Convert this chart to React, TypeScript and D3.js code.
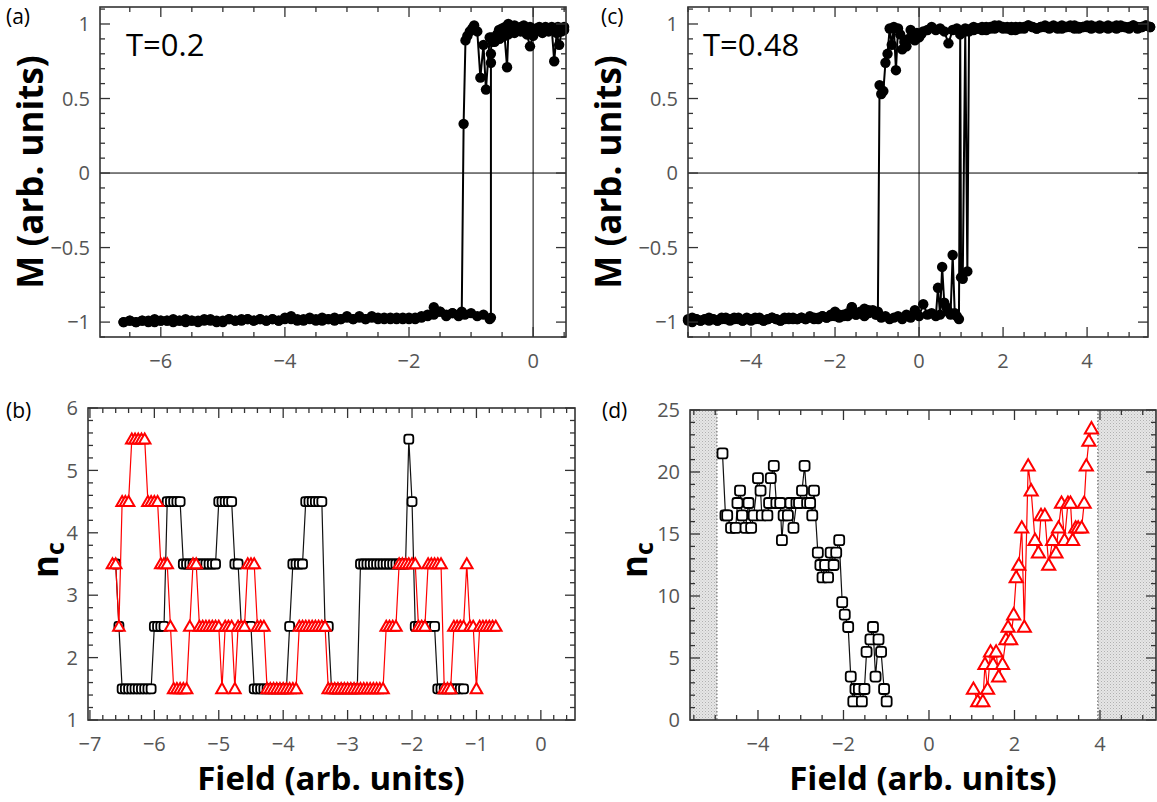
import React from "react";
import * as d3 from "d3";

const W = 1157;
const H = 802;

// ---------- panel (a), T=0.2 ----------
// lower branch, field sweep from -6.6 in steps of 0.1
const aLowStart = -6.6;
const aLowStep = 0.1;
const aLowM = [
  -1.0, -0.99, -1.0, -0.99, -0.99, -1.0, -0.99,
  -0.99, -0.98, -0.99, -1.0, -0.99, -0.99, -0.98, -0.99, -1.0, -0.99,
  -0.98, -0.99, -0.99, -0.98, -0.99, -0.98, -0.99, -0.98, -0.99, -0.97,
  -0.98, -0.99, -0.98, -0.98, -0.99, -0.97, -0.98, -0.99, -0.98, -0.97,
  -0.98, -0.96, -0.98, -0.97, -0.98, -0.97, -0.98, -0.97, -0.98, -0.97,
  -0.98, -0.97, -0.96, -0.95, -0.93, -0.95, -0.94, -0.96, -0.95, -0.94,
  -0.96, -0.95, -0.98,
];
const aUpSwitch: [number, number][] = [
  [-0.68, -0.97], [-0.68, 0.74], [-0.68, 0.8], [-0.67, 0.91], [-0.62, 0.88],
  [-0.58, 0.93], [-0.54, 0.9], [-0.5, 0.95], [-0.46, 0.92], [-0.42, 0.71],
  [-0.4, 0.93], [-0.35, 0.96], [-0.3, 0.94], [-0.25, 0.97], [-0.2, 0.95],
  [-0.15, 0.96], [-0.1, 0.93], [-0.05, 0.85], [0.0, 0.92], [0.05, 0.95],
  [0.1, 0.97], [0.15, 0.94], [0.2, 0.96], [0.25, 0.95], [0.3, 0.97],
  [0.34, 0.75], [0.38, 0.94], [0.42, 0.86], [0.46, 0.95], [0.5, 0.96],
];
const aDownSwitch: [number, number][] = [
  [0.5, 0.98], [0.45, 0.97], [0.4, 0.98], [0.35, 0.96], [0.3, 0.98],
  [0.25, 0.97], [0.2, 0.98], [0.15, 0.96], [0.1, 0.98], [0.05, 0.97],
  [0.0, 0.96], [-0.05, 0.98], [-0.1, 0.97], [-0.15, 0.99], [-0.2, 0.98],
  [-0.25, 0.97], [-0.3, 0.99], [-0.35, 0.98], [-0.4, 1.0], [-0.45, 0.98],
  [-0.5, 0.97], [-0.55, 0.96], [-0.6, 0.9], [-0.65, 0.88], [-0.7, 0.91],
  [-0.76, 0.56], [-0.8, 0.86], [-0.85, 0.64], [-0.9, 0.95], [-0.95, 0.99],
  [-0.98, 0.97], [-1.02, 0.95], [-1.06, 0.92], [-1.09, 0.89], [-1.12, 0.33],
  [-1.15, -0.93], [-1.2, -0.95],
];
// upper branch after switching, sweep from -1.3 downwards
const aDownStart = -1.3;
const aDownStep = -0.1;
const aDownM = [
  -0.94, -0.96, -0.93, -0.9, -0.95, -0.96, -0.97, -0.98, -0.97, -0.98,
  -0.97, -0.98, -0.97, -0.96, -0.98, -0.97, -0.98, -0.96, -0.98, -0.97,
  -0.98, -0.99, -0.98, -0.97, -0.99, -0.98, -0.96, -0.98, -0.99, -0.98,
  -0.99, -0.98, -0.99, -0.98, -0.98, -0.99, -0.98, -1.0, -0.99, -0.98,
  -0.99, -1.0, -0.99, -0.98, -0.99, -1.0, -0.99, -0.99, -0.98, -1.0,
  -0.99, -1.0, -0.99, -1.0,
];

// ---------- panel (c), T=0.48 ----------
const cLowStart = -5.5;
const cLowStep = 0.1;
const cLowM = [
  -0.98, -0.97, -0.98, -0.99, -0.98, -0.97, -0.98, -0.99, -0.98, -0.97,
  -0.98, -0.97, -0.98, -0.99, -0.97, -0.98, -0.97, -0.98, -0.99, -0.98,
  -0.97, -0.98, -0.99, -0.98, -0.97, -0.98, -0.98, -0.97, -0.98, -0.97,
  -0.98, -0.97, -0.96, -0.97, -0.95, -0.96, -0.97, -0.95, -0.96, -0.9,
  -0.95, -0.93, -0.96, -0.94, -0.92, -0.95, -0.97, -0.96, -0.98, -0.97,
  -0.96, -0.98, -0.95, -0.97, -0.92, -0.96, -0.88, -0.95, -0.94, -0.96,
];
const cUpSwitch: [number, number][] = [
  [0.45, -0.77], [0.5, -0.95], [0.55, -0.63], [0.6, -0.87], [0.65, -0.9],
  [0.7, -0.93], [0.75, -0.95], [0.8, -0.55], [0.85, -0.94], [0.9, -0.96],
  [0.95, -0.98], [0.98, 0.93], [1.0, -0.7], [1.04, -0.71], [1.1, 0.95],
  [1.15, -0.66], [1.19, 0.95], [1.25, 0.97], [1.3, 0.96],
];
const cHighStart = 1.4;
const cHighStep = 0.1;
const cHighM = [
  0.97, 0.98, 0.96, 0.98, 0.97, 0.99, 0.98, 0.97, 0.98, 0.96,
  0.98, 0.97, 0.99, 0.98, 0.97, 0.98, 0.98, 0.97, 0.99, 0.98,
  0.97, 0.98, 0.99, 0.97, 0.98, 0.98, 0.99, 0.97, 0.98, 0.99,
  0.98, 0.97, 0.98, 0.99, 0.98, 0.98, 0.97, 0.99, 0.98, 0.98,
  0.99, 0.98,
];
const cBackStart = 5.5;
const cBackStep = -0.1;
const cBackM = [
  0.98, 0.99, 0.98, 0.97, 0.99, 0.98, 0.98, 0.99, 0.97, 0.98,
  0.99, 0.98, 0.97, 0.98, 0.99, 0.98, 0.98, 0.97, 0.99, 0.98,
  0.98, 0.99, 0.97, 0.98, 0.98, 0.99, 0.98, 0.97, 0.98, 0.99,
  0.98, 0.97, 0.98, 0.96, 0.98, 0.97, 0.98, 0.99, 0.97, 0.98,
  0.96, 0.97, 0.98, 0.96, 0.97, 0.95, 0.97, 0.96, 0.87, 0.95,
  0.97, 0.96, 0.98, 0.96,
];
const cDownSwitch: [number, number][] = [
  [0.1, 0.95], [0.05, 0.93], [0.0, 0.91], [-0.05, 0.94], [-0.1, 0.89],
  [-0.15, 0.92], [-0.2, 0.96], [-0.25, 0.9], [-0.3, 0.85], [-0.35, 0.88],
  [-0.4, 0.83], [-0.45, 0.93], [-0.5, 0.97], [-0.55, 0.69], [-0.6, 0.98],
  [-0.65, 0.86], [-0.7, 0.97], [-0.75, 0.8], [-0.8, 0.74], [-0.85, 0.55],
  [-0.9, 0.53], [-0.94, 0.59], [-0.98, -0.93], [-1.03, -0.95],
];
const cTailStart = -1.1;
const cTailStep = -0.1;
const cTailM = [
  -0.93, -0.92, -0.91, -0.94, -0.95, -0.9, -0.94, -0.96, -0.95, -0.93,
  -0.96, -0.97, -0.96, -0.98, -0.97, -0.96, -0.98, -0.97, -0.98, -0.97,
  -0.98, -0.97, -0.99, -0.98, -0.97, -0.98, -0.99, -0.97, -0.98, -0.99,
  -0.98, -0.99, -0.97, -0.98, -0.99, -0.98, -0.97, -0.99, -0.98, -0.99,
  -0.98, -0.99, -0.98, -1.0, -0.99,
];

// ---------- panel (b), n_c at T=0.2, field step 0.05 ----------
const bBlackStart = -6.6;
const bRedStart = -6.65;
const bStep = 0.05;
const bBlack = [
  3.5, 2.5,
  1.5, 1.5, 1.5, 1.5, 1.5, 1.5, 1.5, 1.5, 1.5, 1.5,
  2.5, 2.5, 2.5, 2.5,
  4.5, 4.5, 4.5, 4.5, 4.5,
  3.5, 3.5, 3.5, 3.5, 3.5, 3.5, 3.5, 3.5, 3.5, 3.5, 3.5,
  4.5, 4.5, 4.5, 4.5, 4.5,
  3.5, 3.5,
  2.5, 2.5, 2.5, 2.5,
  1.5, 1.5, 1.5, 1.5, 1.5, 1.5, 1.5, 1.5, 1.5, 1.5, 1.5,
  2.5,
  3.5, 3.5, 3.5, 3.5,
  4.5, 4.5, 4.5, 4.5, 4.5, 4.5,
  2.5, 2.5,
  1.5, 1.5, 1.5, 1.5, 1.5, 1.5, 1.5, 1.5, 1.5,
  3.5, 3.5, 3.5, 3.5, 3.5, 3.5, 3.5, 3.5, 3.5, 3.5, 3.5, 3.5, 3.5, 3.5,
  3.5, 5.5, 4.5,
  2.5, 2.5, 2.5, 2.5, 2.5, 2.5, 2.5,
  1.5, 1.5, 1.5, 1.5, 1.5, 1.5, 1.5, 1.5, 1.5,
];
const bRed = [
  3.5, 3.5, 2.5,
  4.5, 4.5, 4.5,
  5.5, 5.5, 5.5, 5.5, 5.5,
  4.5, 4.5, 4.5, 4.5,
  3.5, 3.5, 3.5,
  2.5,
  1.5, 1.5, 1.5, 1.5, 1.5,
  2.5, 3.5, 3.5,
  2.5, 2.5, 2.5, 2.5, 2.5, 2.5, 2.5,
  1.5,
  2.5, 2.5, 2.5,
  1.5,
  2.5, 2.5, 2.5,
  3.5, 3.5, 3.5,
  2.5, 2.5, 2.5,
  1.5, 1.5, 1.5, 1.5, 1.5, 1.5, 1.5, 1.5, 1.5, 1.5,
  2.5, 2.5, 2.5, 2.5, 2.5, 2.5, 2.5, 2.5, 2.5,
  1.5, 1.5, 1.5, 1.5, 1.5, 1.5, 1.5, 1.5, 1.5, 1.5, 1.5, 1.5, 1.5, 1.5, 1.5, 1.5, 1.5, 1.5,
  2.5, 2.5, 2.5, 2.5,
  3.5, 3.5, 3.5, 3.5, 3.5, 3.5,
  2.5, 2.5, 2.5,
  3.5, 3.5, 3.5, 3.5, 3.5,
  1.5, 1.5, 1.5,
  2.5, 2.5, 2.5, 2.5,
  3.5, 2.5, 2.5, 1.5,
  2.5, 2.5, 2.5, 2.5, 2.5, 2.5,
];

// ---------- panel (d), n_c at T=0.48 ----------
const dBlack: [number, number][] = [
  [-4.83, 21.5], [-4.76, 16.5], [-4.72, 16.5], [-4.63, 15.5], [-4.52, 15.5],
  [-4.48, 17.5], [-4.42, 18.5], [-4.37, 16.5], [-4.29, 15.5], [-4.22, 17.5],
  [-4.16, 15.5], [-4.1, 16.5], [-4.0, 19.5], [-3.94, 18.5], [-3.91, 16.5],
  [-3.78, 16.5], [-3.74, 17.5], [-3.7, 19.5], [-3.63, 20.5], [-3.57, 17.5],
  [-3.48, 17.5], [-3.44, 14.5], [-3.4, 16.5], [-3.3, 16.5], [-3.24, 17.5],
  [-3.17, 15.5], [-3.1, 17.5], [-3.04, 17.5], [-2.97, 18.5], [-2.91, 20.5],
  [-2.85, 17.5], [-2.78, 17.5], [-2.73, 16.5], [-2.69, 18.5], [-2.6, 13.5],
  [-2.54, 12.5], [-2.49, 11.5], [-2.43, 12.5], [-2.36, 11.5], [-2.3, 13.5],
  [-2.23, 12.5], [-2.17, 13.5], [-2.1, 14.5], [-2.03, 9.5], [-1.97, 8.5],
  [-1.89, 7.5], [-1.83, 3.5], [-1.77, 1.5], [-1.72, 2.5], [-1.64, 2.5],
  [-1.57, 1.5], [-1.51, 2.5], [-1.46, 5.5], [-1.37, 6.5], [-1.31, 7.5],
  [-1.25, 3.5], [-1.18, 6.5], [-1.12, 5.5], [-1.05, 2.5], [-0.99, 1.5],
];
const dRed: [number, number][] = [
  [1.04, 2.5], [1.14, 1.5], [1.26, 1.5], [1.31, 4.5], [1.37, 2.5],
  [1.44, 5.5], [1.5, 4.5], [1.57, 5.5], [1.63, 3.5], [1.72, 4.5],
  [1.8, 6.5], [1.85, 7.5], [1.91, 6.5], [1.98, 8.5], [2.04, 11.5],
  [2.1, 12.5], [2.17, 15.5], [2.23, 7.5], [2.32, 20.5], [2.39, 18.5],
  [2.48, 14.5], [2.56, 13.5], [2.62, 16.5], [2.71, 16.5], [2.8, 12.5],
  [2.89, 14.5], [2.97, 13.5], [3.03, 15.5], [3.1, 17.5], [3.17, 14.5],
  [3.25, 17.5], [3.31, 17.5], [3.36, 14.5], [3.43, 15.5], [3.49, 15.5],
  [3.57, 15.5], [3.63, 17.5], [3.68, 20.5], [3.74, 22.5], [3.8, 23.5],
];
const dShadeLeft = -4.96;
const dShadeRight = 3.95;

// tick labels
const aTicksX = [-6, -4, -2, 0];
const mTicksY = [-1, -0.5, 0, 0.5, 1];
const cTicksX = [-4, -2, 0, 2, 4];
const bTicksX = [-7, -6, -5, -4, -3, -2, -1, 0];
const bTicksY = [1, 2, 3, 4, 5, 6];
const dTicksX = [-4, -2, 0, 2, 4];
const dTicksY = [0, 5, 10, 15, 20, 25];

const sweep = (start: number, step: number, vals: number[]): [number, number][] =>
  vals.map((v, i) => [start + i * step, v]);

const fmt = (d: number) => String(d).replace("-", "\u2212");
const FONT = "'Open Sans', 'DejaVu Sans', sans-serif";

type Sc = d3.ScaleLinear<number, number>;

function Frame({ x, y, xt, yt, xMinor, yMinor }: { x: Sc; y: Sc; xt: number[]; yt: number[]; xMinor: number; yMinor: number }) {
  const [l, r] = x.range();
  const [b, t] = y.range();
  const near = (v: number, arr: number[]) => arr.some((a) => Math.abs(a - v) < 1e-6);
  const xm = d3.range(Math.ceil(x.domain()[0] / xMinor) * xMinor, x.domain()[1], xMinor).filter((v) => !near(v, xt));
  const ym = d3.range(Math.ceil(y.domain()[0] / yMinor) * yMinor, y.domain()[1] + 1e-9, yMinor).filter((v) => !near(v, yt));
  const MJ = 10, MN = 5;
  const col = "#333";
  return (
    <g>
      {xt.map((v) => (
        <g key={"xt" + v}>
          <line x1={x(v)} x2={x(v)} y1={b} y2={b - MJ} stroke={col} strokeWidth={1.3} />
          <line x1={x(v)} x2={x(v)} y1={t} y2={t + MJ} stroke={col} strokeWidth={1.3} />
          <text x={x(v)} y={b + 31} textAnchor="middle" fontSize={20} fill="#555" fontFamily={FONT}>{fmt(v)}</text>
        </g>
      ))}
      {xm.map((v, i) => (
        <g key={"xm" + i}>
          <line x1={x(v)} x2={x(v)} y1={b} y2={b - MN} stroke={col} strokeWidth={1.3} />
          <line x1={x(v)} x2={x(v)} y1={t} y2={t + MN} stroke={col} strokeWidth={1.3} />
        </g>
      ))}
      {yt.map((v) => (
        <g key={"yt" + v}>
          <line x1={l} x2={l + MJ} y1={y(v)} y2={y(v)} stroke={col} strokeWidth={1.3} />
          <line x1={r} x2={r - MJ} y1={y(v)} y2={y(v)} stroke={col} strokeWidth={1.3} />
          <text x={l - 10} y={y(v)} dy="0.36em" textAnchor="end" fontSize={20} fill="#555" fontFamily={FONT}>{fmt(v)}</text>
        </g>
      ))}
      {ym.map((v, i) => (
        <g key={"ym" + i}>
          <line x1={l} x2={l + MN} y1={y(v)} y2={y(v)} stroke={col} strokeWidth={1.3} />
          <line x1={r} x2={r - MN} y1={y(v)} y2={y(v)} stroke={col} strokeWidth={1.3} />
        </g>
      ))}
      <rect x={l} y={t} width={r - l} height={b - t} fill="none" stroke={col} strokeWidth={1.6} />
    </g>
  );
}

function Loop({ x, y, branches }: { x: Sc; y: Sc; branches: [number, number][][] }) {
  const line = d3.line<[number, number]>().x((d) => x(d[0])).y((d) => y(d[1]));
  return (
    <g>
      {branches.map((br, i) => (
        <path key={"l" + i} d={line(br) || ""} fill="none" stroke="#000" strokeWidth={2} />
      ))}
      {branches.map((br, i) => (
        <g key={"p" + i}>
          {br.map((d, j) => (
            <circle key={j} cx={x(d[0])} cy={y(d[1])} r={5.2} fill="#000" />
          ))}
        </g>
      ))}
    </g>
  );
}

function Squares({ x, y, pts, size }: { x: Sc; y: Sc; pts: [number, number][]; size: number }) {
  const line = d3.line<[number, number]>().x((d) => x(d[0])).y((d) => y(d[1]));
  return (
    <g>
      <path d={line(pts) || ""} fill="none" stroke="#111" strokeWidth={1.2} />
      {pts.map((d, i) => (
        <rect key={i} x={x(d[0]) - size / 2} y={y(d[1]) - size / 2} width={size} height={size} rx={2.5} fill="#fff" stroke="#000" strokeWidth={1.8} />
      ))}
    </g>
  );
}

function Triangles({ x, y, pts, area }: { x: Sc; y: Sc; pts: [number, number][]; area: number }) {
  const line = d3.line<[number, number]>().x((d) => x(d[0])).y((d) => y(d[1]));
  const tri = d3.symbol(d3.symbolTriangle, area);
  return (
    <g>
      <path d={line(pts) || ""} fill="none" stroke="#ff0000" strokeWidth={1.2} />
      {pts.map((d, i) => (
        <path key={i} d={tri() || ""} transform={`translate(${x(d[0])},${y(d[1]) + 1})`} fill="#fff" stroke="#ff0000" strokeWidth={2} />
      ))}
    </g>
  );
}

export default function App() {
  // panel geometry
  const xa = d3.scaleLinear().domain([-6.98, 0.53]).range([100, 566]);
  const ya = d3.scaleLinear().domain([-1.1, 1.114]).range([337, 7]);
  const xc = d3.scaleLinear().domain([-5.5, 5.45]).range([688, 1148]);
  const yc = d3.scaleLinear().domain([-1.1, 1.114]).range([337, 7]);
  const xb = d3.scaleLinear().domain([-7.03, 0.53]).range([88, 575]);
  const yb = d3.scaleLinear().domain([1, 6]).range([720, 408]);
  const xd = d3.scaleLinear().domain([-5.59, 5.31]).range([690, 1156]);
  const yd = d3.scaleLinear().domain([0, 25]).range([720, 410]);

  const aUp = [...sweep(aLowStart, aLowStep, aLowM), ...aUpSwitch];
  const aDown = [...aDownSwitch, ...sweep(aDownStart, aDownStep, aDownM)];
  const cUp = [...sweep(cLowStart, cLowStep, cLowM), ...cUpSwitch, ...sweep(cHighStart, cHighStep, cHighM)];
  const cDown = [...sweep(cBackStart, cBackStep, cBackM), ...cDownSwitch, ...sweep(cTailStart, cTailStep, cTailM)];
  const bK = sweep(bBlackStart, bStep, bBlack);
  const bR = sweep(bRedStart, bStep, bRed);

  const title = { fontFamily: FONT, fontWeight: 700, fill: "#000" } as const;
  const [dl, dr] = xd.range();
  const [db, dt] = yd.range();

  return (
    <svg width={W} height={H} style={{ position: "absolute", left: 0, top: 0, background: "#fff" }}>
      <defs>
        <pattern id="hatch" width={3} height={3} patternUnits="userSpaceOnUse">
          <rect width={3} height={3} fill="#e6e6e6" />
          <rect width={1} height={1} fill="#b0b0b0" />
          <rect x={1.5} y={1.5} width={1} height={1} fill="#c4c4c4" />
        </pattern>
      </defs>
      <rect width={W} height={H} fill="#fff" />

      {/* (a) */}
      <line x1={xa(0)} x2={xa(0)} y1={ya.range()[1]} y2={ya.range()[0]} stroke="#000" strokeWidth={1} />
      <line x1={xa.range()[0]} x2={xa.range()[1]} y1={ya(0)} y2={ya(0)} stroke="#000" strokeWidth={1} />
      <Loop x={xa} y={ya} branches={[aUp, aDown]} />
      <Frame x={xa} y={ya} xt={aTicksX} yt={mTicksY} xMinor={0.5} yMinor={0.1} />
      <text x={126} y={56} fontSize={31} fontFamily={FONT}>T=0.2</text>
      <text x={6} y={24} fontSize={21} fontFamily={FONT}>(a)</text>
      <text transform="translate(43,172) rotate(-90)" textAnchor="middle" fontSize={35} {...title}>M (arb. units)</text>

      {/* (c) */}
      <line x1={xc(0)} x2={xc(0)} y1={yc.range()[1]} y2={yc.range()[0]} stroke="#000" strokeWidth={1} />
      <line x1={xc.range()[0]} x2={xc.range()[1]} y1={yc(0)} y2={yc(0)} stroke="#000" strokeWidth={1} />
      <Loop x={xc} y={yc} branches={[cUp, cDown]} />
      <Frame x={xc} y={yc} xt={cTicksX} yt={mTicksY} xMinor={0.5} yMinor={0.1} />
      <text x={703} y={56} fontSize={31} fontFamily={FONT}>T=0.48</text>
      <text x={601} y={24} fontSize={21} fontFamily={FONT}>(c)</text>
      <text transform="translate(621,172) rotate(-90)" textAnchor="middle" fontSize={35} {...title}>M (arb. units)</text>

      {/* (b) */}
      <Squares x={xb} y={yb} pts={bK} size={9} />
      <Triangles x={xb} y={yb} pts={bR} area={58} />
      <Frame x={xb} y={yb} xt={bTicksX} yt={bTicksY} xMinor={0.2} yMinor={0.2} />
      <text x={6} y={418} fontSize={21} fontFamily={FONT}>(b)</text>
      <text transform="translate(58,560) rotate(-90)" textAnchor="middle" fontSize={35} {...title}>
        n<tspan fontSize={25} dy={6}>c</tspan>
      </text>
      <text x={331} y={790} textAnchor="middle" fontSize={33} {...title}>Field (arb. units)</text>

      {/* (d) */}
      <rect x={dl} y={dt} width={xd(dShadeLeft) - dl} height={db - dt} fill="url(#hatch)" />
      <rect x={xd(dShadeRight)} y={dt} width={dr - xd(dShadeRight)} height={db - dt} fill="url(#hatch)" />
      <line x1={xd(dShadeLeft)} x2={xd(dShadeLeft)} y1={dt} y2={db} stroke="#555" strokeDasharray="1.5,2" />
      <line x1={xd(dShadeRight)} x2={xd(dShadeRight)} y1={dt} y2={db} stroke="#555" strokeDasharray="1.5,2" />
      <Squares x={xd} y={yd} pts={dBlack} size={10} />
      <Triangles x={xd} y={yd} pts={dRed} area={75} />
      <Frame x={xd} y={yd} xt={dTicksX} yt={dTicksY} xMinor={0.5} yMinor={1} />
      <text x={602} y={418} fontSize={21} fontFamily={FONT}>(d)</text>
      <text transform="translate(647,560) rotate(-90)" textAnchor="middle" fontSize={35} {...title}>
        n<tspan fontSize={25} dy={6}>c</tspan>
      </text>
      <text x={923} y={790} textAnchor="middle" fontSize={33} {...title}>Field (arb. units)</text>
    </svg>
  );
}
